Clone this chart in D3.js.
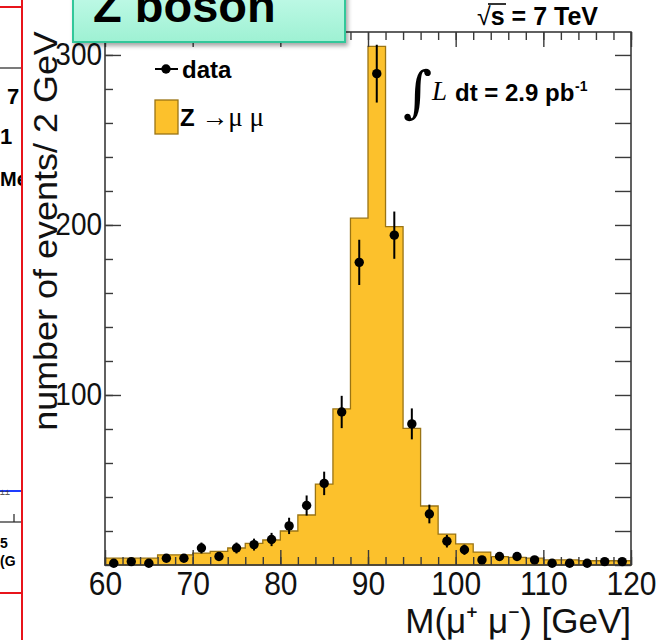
<!DOCTYPE html>
<html><head><meta charset="utf-8">
<script src="https://cdn.jsdelivr.net/npm/d3@7"></script>
<style>
html,body{margin:0;padding:0;background:#fff;}
svg{display:block;}
</style></head><body>
<svg id="chart" width="658" height="640"></svg>
<script>
// ---- data ----
const massBins = [60,62,64,66,68,70,72,74,76,78,80,82,84,86,88,90,92,94,96,98,100,102,104,106,108,110,112,114,116,118];
const binWidth = 2;
const mcCounts = [4,4,4,6,6,7,8,10,12.7,14.7,20,29.4,47.6,91.8,204,305,199,80.4,34.7,18.2,12.4,7.6,4.9,4.5,4,3,3,2.5,2.5,2.5];
const dataCounts = [1,2,1,4,4,10,5,10,12,15,23,35,48,90,178,289,194,83,30,14,9,3,5,5,3,1,1,1,2,2];
const dataErrors = [1,1.4,1,2,2,3.2,2.2,3.2,3.5,3.9,4.8,5.9,6.9,9.5,13.3,17,13.9,9.1,5.5,3.7,3,1.7,2.2,2.2,1.7,1,1,1,1.4,1.4];
const xTickLabels = [60,70,80,90,100,110,120];
const yTickLabels = [100,200,300];
const xDomain = [60,120];
const yDomain = [0,313.5];

// ---- layout ----
const svg = d3.select("#chart");
const L = 105, R = 631, T = 32, B = 565;
const x = d3.scaleLinear().domain(xDomain).range([L, R]);
const y = d3.scaleLinear().domain(yDomain).range([B, T]);
const SANS = "'Liberation Sans', Arial, Helvetica, sans-serif";
const SERIF = "'Liberation Serif', 'DejaVu Serif', serif";
const fillC = "#fcc12c", edgeC = "#9a7414", axisC = "#3a3a3a";

// ---- left neighbouring slide fragment ----
const lp = svg.append("g");
lp.append("clipPath").attr("id","lclip").append("rect").attr("x",0).attr("y",0).attr("width",21).attr("height",640);
const lg = lp.append("g").attr("clip-path","url(#lclip)");
lg.append("line").attr("x1",0).attr("x2",22).attr("y1",7).attr("y2",7).attr("stroke","#e8141b").attr("stroke-width",2);
lg.append("line").attr("x1",0).attr("x2",22).attr("y1",68).attr("y2",68).attr("stroke","#222").attr("stroke-width",1.2);
lg.append("text").attr("x",7).attr("y",104).text("7").attr("font-family",SANS).attr("font-weight","bold").attr("font-size",22);
lg.append("text").attr("x",0).attr("y",144).text("1").attr("font-family",SANS).attr("font-weight","bold").attr("font-size",22);
lg.append("text").attr("x",0).attr("y",186).text("Me").attr("font-family",SANS).attr("font-weight","bold").attr("font-size",20);
lg.append("line").attr("x1",0).attr("x2",22).attr("y1",491).attr("y2",491).attr("stroke","#1e3cff").attr("stroke-width",2);
lg.append("text").attr("x",0).attr("y",495).text("±±").attr("font-family",SANS).attr("font-size",9).attr("fill","#333");
lg.append("line").attr("x1",0).attr("x2",22).attr("y1",522).attr("y2",522).attr("stroke","#222").attr("stroke-width",1.2);
lg.append("line").attr("x1",14).attr("x2",14).attr("y1",522).attr("y2",514).attr("stroke","#222").attr("stroke-width",1.2);
lg.append("text").attr("x",0).attr("y",548).text("5").attr("font-family",SANS).attr("font-weight","bold").attr("font-size",14);
lg.append("text").attr("x",0).attr("y",566).text("(G").attr("font-family",SANS).attr("font-weight","bold").attr("font-size",14);
lg.append("line").attr("x1",0).attr("x2",22).attr("y1",593).attr("y2",593).attr("stroke","#e8141b").attr("stroke-width",2);
svg.append("line").attr("x1",22).attr("x2",22).attr("y1",0).attr("y2",640).attr("stroke","#e8141b").attr("stroke-width",2);

// ---- histogram (Z -> mu mu MC) ----
const stepPts = massBins.map((m,i)=>({m, v: mcCounts[i]}));
stepPts.push({m: massBins[massBins.length-1] + binWidth, v: mcCounts[mcCounts.length-1]});
const area = d3.area().curve(d3.curveStepAfter).x(d=>x(d.m)).y0(y(0)).y1(d=>y(d.v));
svg.append("path").datum(stepPts).attr("d", area)
  .attr("fill", fillC).attr("stroke", edgeC).attr("stroke-width", 1.3);

// ---- axes ----
function styleAxis(g){
  g.select(".domain").remove();
  g.selectAll("line").attr("stroke", axisC).attr("stroke-width", 1.4);
}
const minorX = x.ticks(30), minorY = d3.range(0, 320, 20);
svg.append("g").attr("transform",`translate(0,${B})`)
  .call(d3.axisBottom(x).tickValues(minorX).tickSize(-8).tickFormat("")).call(styleAxis);
svg.append("g").attr("transform",`translate(0,${T})`)
  .call(d3.axisTop(x).tickValues(minorX).tickSize(-8).tickFormat("")).call(styleAxis);
svg.append("g").attr("transform",`translate(${L},0)`)
  .call(d3.axisLeft(y).tickValues(minorY).tickSize(-8).tickFormat("")).call(styleAxis);
svg.append("g").attr("transform",`translate(${R},0)`)
  .call(d3.axisRight(y).tickValues(minorY).tickSize(-16).tickFormat("")).call(styleAxis);
svg.append("g").attr("transform",`translate(0,${T})`)
  .call(d3.axisTop(x).tickValues(xTickLabels).tickSize(-15).tickFormat("")).call(styleAxis);

const SY = 1.13;
const gx = svg.append("g").attr("transform",`translate(0,${B})`)
  .call(d3.axisBottom(x).tickValues(xTickLabels).tickSize(-15).tickPadding(4).tickFormat(d3.format("d"))).call(styleAxis);
gx.selectAll("text").attr("font-family",SANS).attr("font-size",30).attr("fill","#111")
  .attr("dy",null).attr("y",30/SY).attr("transform",`scale(1,${SY})`);
const gy = svg.append("g").attr("transform",`translate(${L},0)`)
  .call(d3.axisLeft(y).tickValues(yTickLabels).tickSize(-16).tickPadding(3).tickFormat(d3.format("d"))).call(styleAxis);
gy.selectAll("text").attr("font-family",SANS).attr("font-size",28).attr("fill","#111")
  .attr("dy",null).attr("y",10/SY).attr("transform",`scale(1,${SY})`);

// frame
svg.append("rect").attr("x",L).attr("y",T).attr("width",R-L).attr("height",B-T)
  .attr("fill","none").attr("stroke",axisC).attr("stroke-width",1.6);

// ---- data points ----
const pts = svg.append("g");
pts.selectAll("line.err").data(massBins).join("line").attr("class","err")
  .attr("x1",(m)=>x(m+binWidth/2)).attr("x2",(m)=>x(m+binWidth/2))
  .attr("y1",(m,i)=>y(dataCounts[i]-dataErrors[i])).attr("y2",(m,i)=>y(dataCounts[i]+dataErrors[i]))
  .attr("stroke","#000").attr("stroke-width",2);
pts.selectAll("circle").data(massBins).join("circle")
  .attr("cx",(m)=>x(m+binWidth/2)).attr("cy",(m,i)=>y(dataCounts[i])).attr("r",4.7).attr("fill","#000");

// ---- axis titles ----
svg.append("g").attr("transform",`translate(57,231) rotate(-90) scale(1.09,1)`)
  .append("text").attr("text-anchor","middle").attr("font-family",SANS).attr("font-size",33).attr("fill","#111")
  .text("number of events/ 2 GeV");
svg.append("text").attr("x",R).attr("y",633).attr("text-anchor","end").attr("font-family",SANS).attr("font-size",35).attr("fill","#111")
  .text("M(μ⁺ μ⁻) [GeV]");

// ---- legend ----
svg.append("line").attr("x1",155).attr("x2",178).attr("y1",69).attr("y2",69).attr("stroke","#000").attr("stroke-width",2);
svg.append("circle").attr("cx",166).attr("cy",69).attr("r",4.7).attr("fill","#000");
svg.append("text").attr("x",182).attr("y",78).attr("font-family",SANS).attr("font-weight","bold").attr("font-size",24).text("data");
svg.append("rect").attr("x",155).attr("y",100).attr("width",23).attr("height",34).attr("fill",fillC).attr("stroke",edgeC).attr("stroke-width",1.3);
const lz = svg.append("text").attr("x",180).attr("y",126);
lz.append("tspan").attr("font-family",SANS).attr("font-weight","bold").attr("font-size",24).text("Z ");
lz.append("tspan").attr("font-family",SERIF).attr("font-size",27).text("→μ μ");

// ---- annotations ----
const rs = svg.append("text").attr("x",477).attr("y",25).attr("font-family",SANS).attr("font-weight","bold").attr("font-size",25);
rs.append("tspan").attr("font-weight","normal").text("√");
rs.append("tspan").text("s = 7 TeV");
svg.append("line").attr("x1",488).attr("x2",506).attr("y1",4).attr("y2",4).attr("stroke","#000").attr("stroke-width",1.6);

svg.append("text").attr("x",403).attr("y",111).attr("font-family","'DejaVu Serif', serif").attr("font-size",56).text("∫");
svg.append("text").attr("x",432).attr("y",100).attr("font-family",SERIF).attr("font-style","italic").attr("font-size",27).text("L");
svg.append("text").attr("x",455).attr("y",101).attr("font-family",SANS).attr("font-weight","bold").attr("font-size",24).text("dt = 2.9 pb");
svg.append("text").attr("x",575).attr("y",91).attr("font-family",SANS).attr("font-weight","bold").attr("font-size",14).text("-1");

// ---- "Z boson" callout box ----
const defs = svg.append("defs");
const grad = defs.append("linearGradient").attr("id","mint").attr("x1",0).attr("x2",0).attr("y1",0).attr("y2",1);
grad.append("stop").attr("offset","0%").attr("stop-color","#c2fae8");
grad.append("stop").attr("offset","100%").attr("stop-color","#9ef1d3");
const sh = defs.append("filter").attr("id","shadow").attr("x","-10%").attr("y","-10%").attr("width","130%").attr("height","160%");
sh.append("feDropShadow").attr("dx",2).attr("dy",3).attr("stdDeviation",2).attr("flood-color","#000").attr("flood-opacity",0.35);
svg.append("rect").attr("x",73).attr("y",-10).attr("width",272).attr("height",52)
  .attr("fill","url(#mint)").attr("stroke","#33c79a").attr("stroke-width",2).attr("filter","url(#shadow)");
svg.append("text").attr("x",93).attr("y",22).attr("font-family",SANS).attr("font-weight","bold").attr("font-size",47).text("Z boson");
</script>
</body></html>
